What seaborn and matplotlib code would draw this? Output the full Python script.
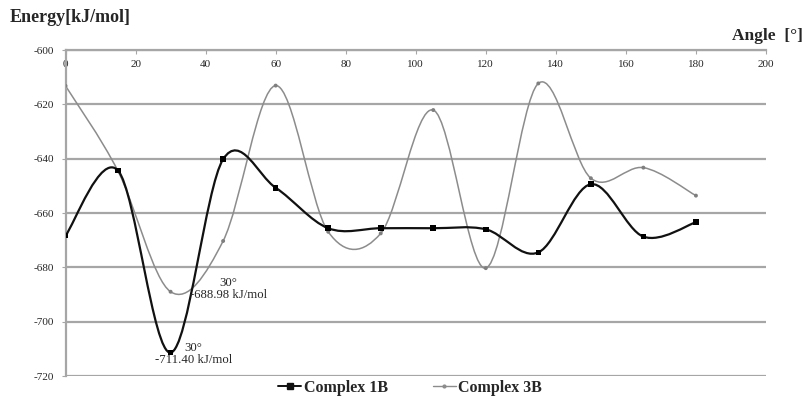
import numpy as np
import matplotlib
matplotlib.use("Agg")
import matplotlib.pyplot as plt
from matplotlib.path import Path
from matplotlib.patches import PathPatch
from matplotlib.lines import Line2D
import seaborn as sns

# data
angles = [0, 15, 30, 45, 60, 75, 90, 105, 120, 135, 150, 165, 180]
energy_1b = [-668.3, -644.4, -711.4, -640.2, -650.7, -665.6, -665.6, -665.6, -666.0, -674.5, -649.4, -668.7, -663.4]
energy_3b = [-613.2, -644.6, -688.98, -670.3, -613.1, -666.9, -667.5, -622.1, -680.3, -612.3, -647.2, -643.3, -653.6]
x_ticks = [0, 20, 40, 60, 80, 100, 120, 140, 160, 180, 200]
y_ticks = [-600, -620, -640, -660, -680, -700, -720]

sns.set_style("white")
plt.rcParams['font.family'] = ['Liberation Serif', 'DejaVu Serif']
plt.rcParams['axes.unicode_minus'] = False


def smooth_path(xs, ys):
    # excel-like smoothed line: cubic bezier segments through each point
    p = np.column_stack([xs, ys]).astype(float)
    ext = np.vstack([p[0], p, p[-1]])
    verts = [p[0]]
    codes = [Path.MOVETO]
    for i in range(len(p) - 1):
        p0, p1, p2, p3 = ext[i], ext[i + 1], ext[i + 2], ext[i + 3]
        c1 = p1 + (p2 - p0) / 6.0
        c2 = p2 - (p3 - p1) / 6.0
        verts += [c1, c2, p2]
        codes += [Path.CURVE4] * 3
    return Path(verts, codes)


fig = plt.figure(figsize=(8.04, 3.96), dpi=100)
ax = fig.add_axes([0.0815, 0.0505, 0.8712, 0.8232])

grid_c = "#a6a6a6"
for yv in y_ticks:
    ax.axhline(yv, color=grid_c, lw=1.6, zorder=0)

ax.add_patch(PathPatch(smooth_path(angles, energy_3b), fill=False, edgecolor="#8c8c8c", lw=1.1, zorder=2))
ax.add_patch(PathPatch(smooth_path(angles, energy_1b), fill=False, edgecolor="#111111", lw=1.6, zorder=3))
sns.scatterplot(x=angles, y=energy_3b, ax=ax, color="#7f7f7f", marker="o", s=8, edgecolor="none", zorder=4)
sns.scatterplot(x=angles, y=energy_1b, ax=ax, color="black", marker="s", s=16, edgecolor="none", zorder=5)

ax.set_xlim(0, 200)
ax.set_ylim(-720, -600)
ax.set_xticks(x_ticks)
ax.set_yticks(y_ticks)
ax.tick_params(axis="x", top=True, bottom=False, labeltop=True, labelbottom=False,
               direction="in", length=3, color=grid_c, pad=-14, labelsize=8)
ax.tick_params(axis="y", left=True, direction="out", length=3, color=grid_c, labelsize=8, pad=5)
for side in ["right", "bottom"]:
    ax.spines[side].set_visible(False)
for side in ["left", "top"]:
    ax.spines[side].set_color(grid_c)
    ax.spines[side].set_linewidth(1.6)

ax.text(46.5, -688.0, "30°\n-688.98 kJ/mol", ha="center", va="center", fontsize=9.2, linespacing=0.95, zorder=6)
ax.text(36.5, -711.9, "30°\n-711.40 kJ/mol", ha="center", va="center", fontsize=9.2, linespacing=0.95, zorder=6)

fig.text(0.012, 0.955, "Energy[kJ/mol]", fontsize=13, fontweight="bold", ha="left", va="center")
fig.text(0.998, 0.91, "Angle  [°]", fontsize=12.5, fontweight="bold", ha="right", va="center")

handles = [Line2D([], [], color="#111111", lw=1.4, marker="s", markersize=4),
           Line2D([], [], color="#8c8c8c", lw=1.0, marker="o", markersize=2)]
fig.legend(handles, ["Complex 1B", "Complex 3B"], loc="center", bbox_to_anchor=(0.51, 0.02),
           ncol=2, frameon=False, prop={"size": 11.5, "weight": "bold"},
           handlelength=1.45, handletextpad=0.15, columnspacing=2.8, borderpad=0.1)

fig.savefig("out.png", dpi=100)
